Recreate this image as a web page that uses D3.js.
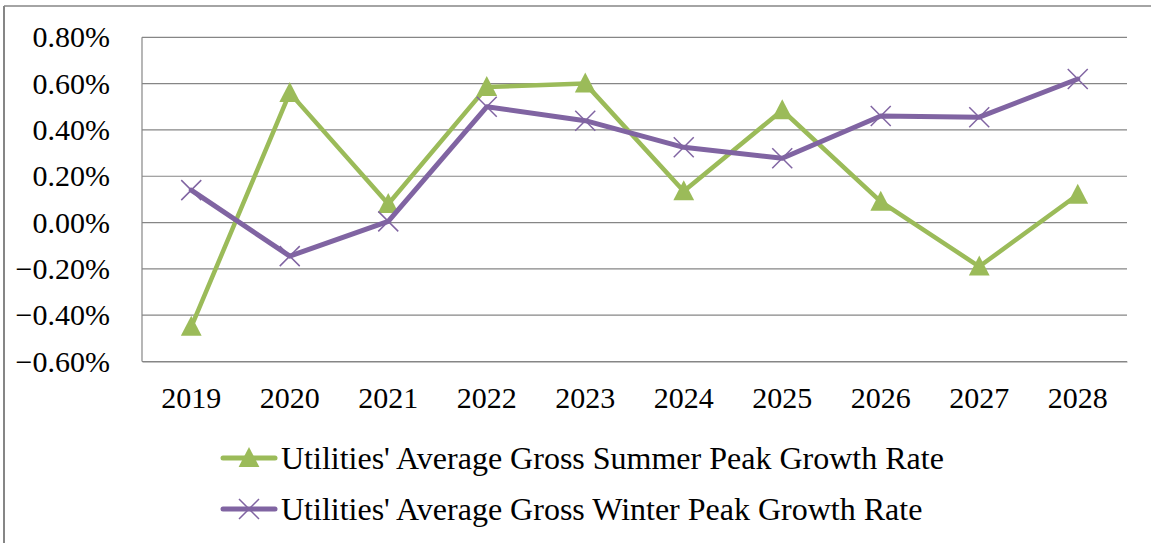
<!DOCTYPE html>
<html>
<head>
<meta charset="utf-8">
<script src="https://cdn.jsdelivr.net/npm/d3@7"></script>
</head>
<body style="margin:0">
<svg id="chart" width="1151" height="543"></svg>
<script>
// Peak demand growth rates (percent) by year
const years = ["2019", "2020", "2021", "2022", "2023", "2024", "2025", "2026", "2027", "2028"];
const summerGrowth = [-0.45, 0.56, 0.08, 0.585, 0.60, 0.135, 0.485, 0.09, -0.19, 0.12];
const winterGrowth = [0.14, -0.145, 0.005, 0.50, 0.44, 0.325, 0.278, 0.46, 0.455, 0.62];
const yTicks = [-0.6, -0.4, -0.2, 0.0, 0.2, 0.4, 0.6, 0.8];
const seriesNames = [
  "Utilities' Average Gross Summer Peak Growth Rate",
  "Utilities' Average Gross Winter Peak Growth Rate"
];

const green = "#9BBB59";
const purple = "#8064A2";
const gridColor = "#868686";
const serif = "Liberation Serif";

const svg = d3.select("#chart");

// outer chart frame (left and top edges)
svg.append("line").attr("x1", 4).attr("x2", 4).attr("y1", 6).attr("y2", 543)
  .attr("stroke", gridColor).attr("stroke-width", 2);
svg.append("line").attr("x1", 4).attr("x2", 1151).attr("y1", 6).attr("y2", 6)
  .attr("stroke", gridColor).attr("stroke-width", 1.5);

const plot = { left: 142, right: 1127, top: 37.3, bottom: 361.5 };

const x = d3.scaleBand().domain(years).range([plot.left, plot.right]);
const y = d3.scaleLinear().domain([-0.6, 0.8]).range([plot.bottom, plot.top]);

// horizontal gridlines
svg.append("g").selectAll("line").data(yTicks).join("line")
  .attr("x1", plot.left).attr("x2", plot.right)
  .attr("y1", d => y(d)).attr("y2", d => y(d))
  .attr("stroke", gridColor).attr("stroke-width", 1.2);

// vertical axis line
svg.append("line").attr("x1", plot.left).attr("x2", plot.left)
  .attr("y1", plot.top).attr("y2", plot.bottom)
  .attr("stroke", gridColor).attr("stroke-width", 1.2);

// y axis labels
const yAxis = d3.axisLeft(y).tickValues(yTicks).tickSize(0).tickPadding(32)
  .tickFormat(d => d3.format(".2f")(d) + "%");
const gy = svg.append("g").attr("transform", `translate(${plot.left},0)`).call(yAxis);
gy.attr("font-family", serif).attr("font-size", 30);
gy.select(".domain").remove();
gy.selectAll("text").attr("font-family", serif).attr("font-size", 30).attr("fill", "#000");

// x axis labels
const xAxis = d3.axisBottom(x).tickSize(0).tickPadding(25);
const gx = svg.append("g").attr("transform", `translate(0,${plot.bottom})`).call(xAxis);
gx.attr("font-family", serif).attr("font-size", 30);
gx.select(".domain").attr("stroke", gridColor).attr("stroke-width", 1.2);
gx.selectAll("text").attr("font-family", serif).attr("font-size", 30).attr("fill", "#000");

const cx = d => x(d) + x.bandwidth() / 2;
const line = d3.line().x(d => cx(d.year)).y(d => y(d.value));

const summer = years.map((yr, i) => ({ year: yr, value: summerGrowth[i] }));
const winter = years.map((yr, i) => ({ year: yr, value: winterGrowth[i] }));

function triPath(px, py, s) {
  return `M${px},${py - s * 0.55}L${px + s * 0.52},${py + s * 0.45}L${px - s * 0.52},${py + s * 0.45}Z`;
}
function crossPath(px, py, s) {
  return `M${px - s},${py - s}L${px + s},${py + s}M${px - s},${py + s}L${px + s},${py - s}`;
}

// summer series
svg.append("path").datum(summer).attr("d", line)
  .attr("fill", "none").attr("stroke", green).attr("stroke-width", 4.5)
  .attr("stroke-linejoin", "round").attr("stroke-linecap", "round");
svg.append("g").selectAll("path").data(summer).join("path")
  .attr("d", d => triPath(cx(d.year), y(d.value), 20))
  .attr("fill", green);

// winter series
svg.append("path").datum(winter).attr("d", line)
  .attr("fill", "none").attr("stroke", purple).attr("stroke-width", 5)
  .attr("stroke-linejoin", "round").attr("stroke-linecap", "round");
svg.append("g").selectAll("path").data(winter).join("path")
  .attr("d", d => crossPath(cx(d.year), y(d.value), 10))
  .attr("fill", "none").attr("stroke", purple).attr("stroke-width", 1.5);

// legend
const legend = svg.append("g").attr("font-family", serif).attr("font-size", 32);
const legendRows = [
  { name: seriesNames[0], color: green, marker: "tri", yPos: 458 },
  { name: seriesNames[1], color: purple, marker: "cross", yPos: 509 }
];
legendRows.forEach(r => {
  legend.append("line").attr("x1", 223).attr("x2", 275)
    .attr("y1", r.yPos).attr("y2", r.yPos)
    .attr("stroke", r.color).attr("stroke-width", 5).attr("stroke-linecap", "round");
  if (r.marker === "tri") {
    legend.append("path").attr("d", triPath(249, r.yPos, 20)).attr("fill", r.color);
  } else {
    legend.append("path").attr("d", crossPath(249, r.yPos, 10))
      .attr("fill", "none").attr("stroke", r.color).attr("stroke-width", 1.5);
  }
  legend.append("text").attr("x", 281).attr("y", r.yPos).attr("dy", "0.35em")
    .attr("font-family", serif).attr("font-size", 32)
    .attr("fill", "#000").text(r.name);
});
</script>
</body>
</html>
